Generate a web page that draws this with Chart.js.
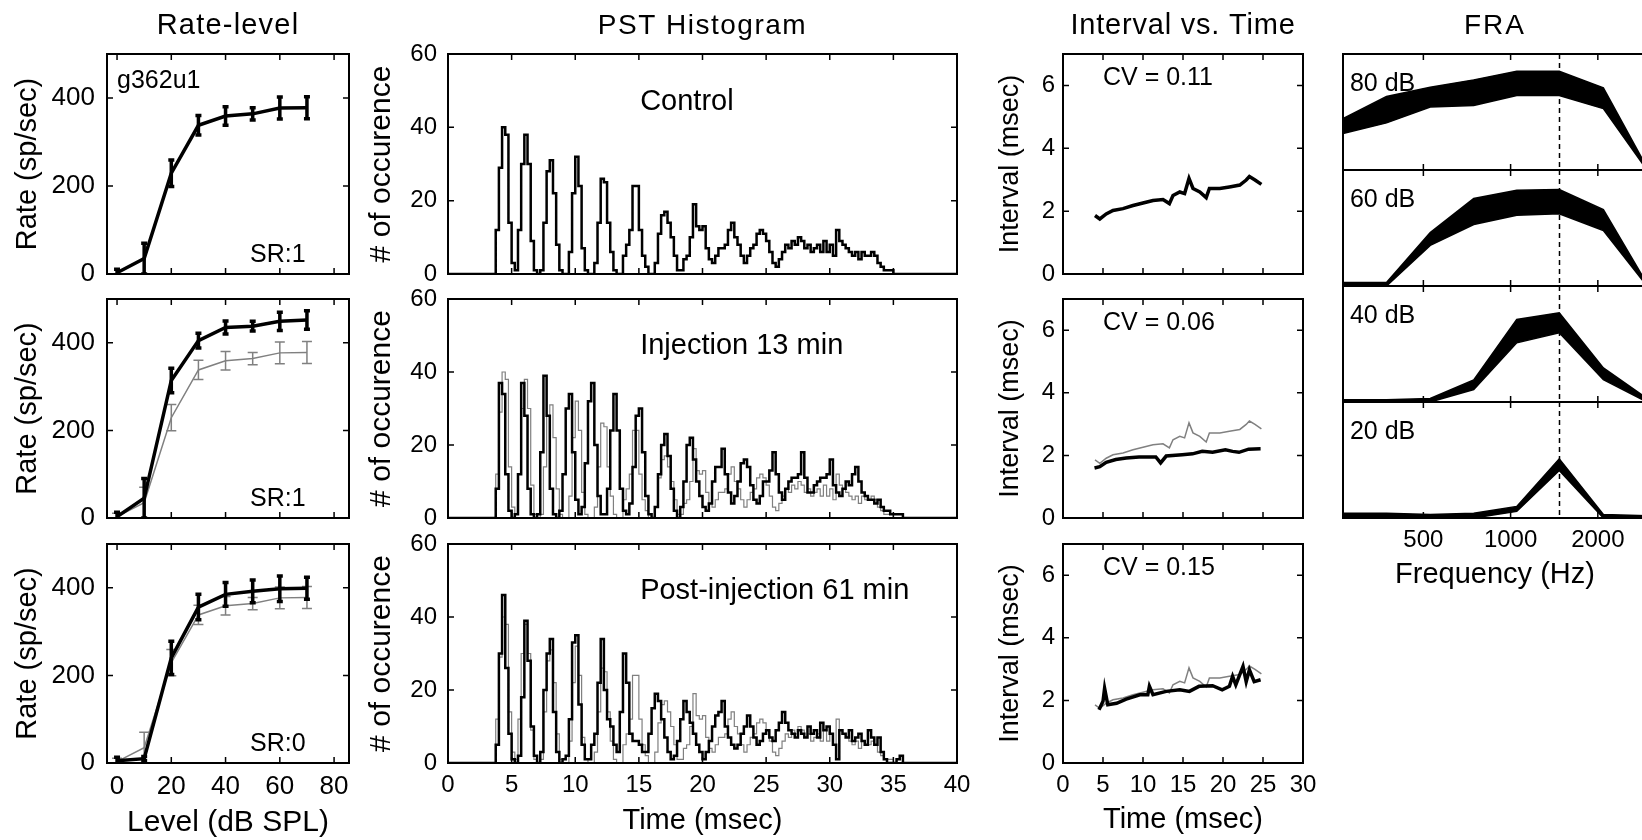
<!DOCTYPE html>
<html>
<head>
<meta charset="utf-8">
<script src="https://cdn.jsdelivr.net/npm/chart.js"></script>
<style>
html,body{margin:0;padding:0;background:#fff;width:1642px;height:840px;overflow:hidden;position:relative}
canvas{position:absolute}
</style>
</head>
<body>
<script>
// ================= DATA =================
// Rate-level (dB SPL -> spikes/sec)
const rateLevels = [0, 10, 20, 30, 40, 50, 60, 70];
const rateControl = [3, 35, 229, 338, 359, 364, 377, 378];
const rateControlErr = [8, 35, 30, 22, 21, 14, 25, 25];
const rateInjection = [3, 45, 314, 405, 435, 438, 449, 452];
const rateInjectionErr = [10, 45, 28, 17, 15, 11, 21, 21];
const ratePost = [5, 10, 240, 356, 385, 392, 398, 399];
const ratePostErr = [8, 5, 38, 29, 27, 26, 29, 25];

// PST histograms: counts per 0.25-ms bin starting at 3.5 ms
const PST_BIN_START = 3.5;
const PST_BIN_WIDTH = 0.25;
const pstControl = [
  0,12,29,40,38,14,3,1,12,30,
  38,30,9,1,0,1,14,28,31,22,
  8,1,0,0,6,22,32,24,7,1,
  0,0,3,14,26,25,14,6,1,0,
  0,5,8,12,24,24,12,5,2,0,
  0,3,11,16,17,14,10,5,1,1,
  4,5,10,19,13,12,13,7,4,3,
  5,7,7,8,12,14,10,8,5,3,
  5,7,8,11,12,11,9,6,3,2,
  4,6,8,7,9,8,10,9,7,8,
  6,7,8,6,9,6,8,5,12,9,
  8,7,6,5,6,4,6,5,5,6,
  5,3,2,1,1,1,0,0,0,0];
const pstInjection = [
  0,8,37,34,12,2,0,1,12,37,
  28,8,1,0,1,18,39,28,8,1,
  0,2,12,30,34,18,5,1,3,15,
  32,37,20,6,1,1,8,24,34,24,
  8,2,1,4,14,28,30,18,6,1,
  0,3,12,20,23,17,8,2,0,3,
  10,20,22,16,10,6,3,2,4,10,
  14,14,19,12,7,4,6,10,15,16,
  14,9,5,4,6,10,10,13,18,12,
  7,5,8,10,11,11,12,18,11,7,
  7,9,10,11,11,12,16,9,7,6,
  8,10,9,12,14,10,7,6,5,5,
  4,5,3,2,2,1,1,1,1,0];
const pstPost = [
  0,5,30,46,26,8,1,0,2,18,
  39,28,10,2,0,3,20,30,34,14,
  3,0,1,2,12,33,35,16,5,1,
  1,5,8,22,34,20,12,10,5,3,
  14,30,22,8,6,6,5,3,3,8,
  15,19,17,12,7,3,1,2,6,12,
  17,14,11,8,5,3,1,3,6,10,
  13,14,17,10,7,5,4,5,8,10,
  13,10,7,5,6,8,9,7,6,9,
  11,14,11,9,8,7,9,8,7,10,
  8,9,7,11,9,10,8,5,1,9,
  8,7,9,6,7,8,6,5,9,7,
  5,7,3,1,0,0,0,1,2,0];

// Interval vs. time (spike time ms -> interval ms)
const ivControlT = [4.0, 4.6, 5.4, 6.25, 7.5, 8.75, 10.0, 11.25, 12.5, 13.3, 13.75, 14.6, 15.2, 15.75, 16.25, 17.1, 17.9, 18.3, 19.6, 20.8, 22.1, 22.9, 23.3, 24.0, 24.8];
const ivControlV = [1.86, 1.75, 1.91, 2.02, 2.08, 2.18, 2.26, 2.34, 2.37, 2.24, 2.5, 2.61, 2.56, 3.04, 2.72, 2.61, 2.43, 2.72, 2.72, 2.77, 2.83, 2.99, 3.10, 2.99, 2.85];
const ivInjectionT = [3.94, 4.6, 5.4, 6.6, 7.9, 9.5, 11.6, 12.2, 12.9, 14.9, 16.2, 17.4, 18.7, 20.3, 21.2, 22.0, 23.2, 24.7];
const ivInjectionV = [1.6, 1.64, 1.78, 1.87, 1.92, 1.95, 1.95, 1.76, 1.98, 2.02, 2.05, 2.13, 2.1, 2.18, 2.13, 2.1, 2.2, 2.21];
const ivPostT = [4.5, 5.0, 5.2, 5.6, 6.7, 7.9, 9.6, 10.6, 10.8, 11.25, 12.9, 14.6, 15.8, 17.0, 18.7, 19.9, 20.8, 21.2, 21.6, 22.5, 22.9, 23.3, 23.9, 24.7];
const ivPostV = [1.70, 1.97, 2.39, 1.86, 1.91, 2.04, 2.18, 2.18, 2.45, 2.18, 2.29, 2.34, 2.29, 2.45, 2.47, 2.34, 2.45, 2.77, 2.5, 3.09, 2.6, 2.98, 2.6, 2.66];

// FRA bands (normalized response, lower / upper edge)
const fraFreq = [264, 373, 528, 746, 1050, 1472, 2090, 2956];
const fra80Upper = [0.443, 0.634, 0.714, 0.777, 0.851, 0.851, 0.709, 0.02];
const fra80Lower = [0.314, 0.406, 0.543, 0.557, 0.643, 0.643, 0.529, 0.0];
const fra60Upper = [0.03, 0.03, 0.46, 0.754, 0.826, 0.832, 0.658, 0.02];
const fra60Lower = [0.0, 0.0, 0.35, 0.53, 0.609, 0.623, 0.478, 0.0];
const fra40Upper = [0.02, 0.02, 0.03, 0.19, 0.712, 0.769, 0.294, 0.03];
const fra40Lower = [0.0, 0.0, 0.0, 0.107, 0.51, 0.597, 0.193, 0.0];
const fra20Upper = [0.04, 0.04, 0.03, 0.04, 0.10, 0.51, 0.03, 0.02];
const fra20Lower = [0.0, 0.0, 0.0, 0.0, 0.057, 0.41, 0.0, 0.0];
const fraCF = 1472;

// Tick values
const rateXTicks = [0, 20, 40, 60, 80];
const rateYTicks = [0, 200, 400];
const pstXTicks = [0, 5, 10, 15, 20, 25, 30, 35, 40];
const pstYTicks = [0, 20, 40, 60];
const ivXTicks = [0, 5, 10, 15, 20, 25, 30];
const ivYTicks = [0, 2, 4, 6];
const fraXTicks = [500, 1000, 2000];

// ================= HELPERS =================
const FONT = '"Liberation Sans", Arial, Helvetica, sans-serif';
const BLACK = '#000000';
const GRAY = '#808080';
const f = s => s + 'px ' + FONT;
Chart.defaults.font.family = FONT;
Chart.defaults.color = '#000';

const zip = (xs, ys) => xs.map((x, i) => ({x: x, y: ys[i]}));
const pstBinTimes = pstControl.map((_, i) => PST_BIN_START + i * PST_BIN_WIDTH);
function stairs(vals) {
  const pts = [{x: 0, y: 0}];
  vals.forEach((v, i) => pts.push({x: pstBinTimes[i], y: v}));
  pts.push({x: PST_BIN_START + vals.length * PST_BIN_WIDTH, y: 0});
  pts.push({x: 40, y: 0});
  return pts;
}

const framePlugin = {
  id: 'frame',
  afterDatasetsDraw(chart, args, o) {
    const ctx = chart.ctx, a = chart.chartArea;
    const xs = chart.scales.x, ys = chart.scales.y;
    ctx.save();
    ctx.strokeStyle = '#000';
    if (o.vline != null) {
      const vx = Math.round(xs.getPixelForValue(o.vline)) + 0.5;
      ctx.setLineDash([5, 4]);
      ctx.lineWidth = 1.5;
      ctx.beginPath(); ctx.moveTo(vx, a.top); ctx.lineTo(vx, a.bottom); ctx.stroke();
      ctx.setLineDash([]);
    }
    const tl = 6;
    ctx.lineWidth = 1.5;
    ctx.beginPath();
    (o.xTicks || []).forEach(v => {
      const px = xs.getPixelForValue(v);
      ctx.moveTo(px, a.bottom); ctx.lineTo(px, a.bottom - tl);
      ctx.moveTo(px, a.top); ctx.lineTo(px, a.top + tl);
    });
    (o.yTicks || []).forEach(v => {
      const py = ys.getPixelForValue(v);
      ctx.moveTo(a.left, py); ctx.lineTo(a.left + tl, py);
      ctx.moveTo(a.right, py); ctx.lineTo(a.right - tl, py);
    });
    ctx.stroke();
    ctx.lineWidth = 2;
    ctx.strokeRect(a.left, a.top, a.right - a.left, a.bottom - a.top);
    ctx.restore();
  }
};

const textPlugin = {
  id: 'texts',
  afterDraw(chart, args, o) {
    const ctx = chart.ctx, a = chart.chartArea;
    (o.items || []).forEach(it => {
      ctx.save();
      ctx.font = it.font;
      ctx.fillStyle = '#000';
      ctx.textAlign = it.align || 'left';
      ctx.textBaseline = 'alphabetic';
      if ('letterSpacing' in ctx) ctx.letterSpacing = it.spacing || '0px';
      let x, y;
      if (it.title) { x = (a.left + a.right) / 2; y = it.pageY - o.canvasTop; }
      else { x = chart.scales.x.getPixelForValue(it.x); y = chart.scales.y.getPixelForValue(it.y); }
      ctx.fillText(it.text, x, y);
      ctx.restore();
    });
  }
};

const errPlugin = {
  id: 'errbars',
  afterDatasetDraw(chart, args) {
    const ds = chart.data.datasets[args.index];
    if (!ds.errors) return;
    const ctx = chart.ctx, a = chart.chartArea;
    const xs = chart.scales.x, ys = chart.scales.y;
    ctx.save();
    ctx.beginPath(); ctx.rect(a.left, a.top, a.right - a.left, a.bottom - a.top); ctx.clip();
    ctx.strokeStyle = ds.borderColor;
    ctx.lineWidth = ds.errWidth;
    ctx.beginPath();
    ds.data.forEach((p, i) => {
      const e = ds.errors[i];
      const px = xs.getPixelForValue(p.x);
      const y1 = ys.getPixelForValue(p.y - e), y2 = ys.getPixelForValue(p.y + e);
      ctx.moveTo(px, y1); ctx.lineTo(px, y2);
      ctx.moveTo(px - ds.cap, y1); ctx.lineTo(px + ds.cap, y1);
      ctx.moveTo(px - ds.cap, y2); ctx.lineTo(px + ds.cap, y2);
    });
    ctx.stroke();
    ctx.restore();
  }
};

function axisCfg(o, isX, fixed) {
  const c = {
    type: o.type || 'linear', min: o.min, max: o.max, display: !!o.show,
    grid: {display: false, drawTicks: false},
    border: {display: false},
    afterBuildTicks: s => { s.ticks = o.ticks.map(v => ({value: v})); },
    ticks: {autoSkip: false, maxRotation: 0, minRotation: 0, padding: o.labelPad || 8, color: '#000',
            font: {family: FONT, size: o.tickSize || 24}, callback: v => String(v)},
    title: o.title ? {display: true, text: o.title, color: '#000', font: {family: FONT, size: o.titleSize}, padding: o.titlePad}
                   : {display: false}
  };
  if (o.show) c.afterFit = s => { if (isX) s.height = fixed; else s.width = fixed; };
  return c;
}

function panel(p) {
  const cv = document.createElement('canvas');
  const w = p.R - p.L + p.ml + p.mr, h = p.B - p.T + p.mt + p.mb;
  cv.width = w; cv.height = h;
  cv.style.left = (p.L - p.ml) + 'px';
  cv.style.top = (p.T - p.mt) + 'px';
  cv.style.width = w + 'px'; cv.style.height = h + 'px';
  document.body.appendChild(cv);
  const xShown = !!p.x.show, yShown = !!p.y.show;
  return new Chart(cv, {
    type: 'line',
    data: {datasets: p.datasets},
    options: {
      responsive: false, animation: false, devicePixelRatio: 1, events: [],
      layout: {padding: {left: yShown ? 0 : p.ml, top: p.mt, right: p.mr, bottom: xShown ? 0 : p.mb}},
      elements: {point: {radius: 0}, line: {tension: 0}},
      scales: {x: axisCfg(p.x, true, p.mb), y: axisCfg(p.y, false, p.ml)},
      plugins: {
        legend: {display: false}, tooltip: {enabled: false},
        frame: {xTicks: p.x.ticks, yTicks: p.y.ticks, vline: p.vline},
        texts: {items: p.texts || [], canvasTop: p.T - p.mt}
      }
    },
    plugins: [framePlugin, textPlugin, errPlugin]
  });
}

// ================= LAYOUT =================
const rows = [{T: 54, B: 274}, {T: 299, B: 518}, {T: 544, B: 763}];

// ---- Rate-level column ----
const rateSets = [
  [{data: zip(rateLevels, rateControl), errors: rateControlErr, borderColor: BLACK, borderWidth: 3.5, errWidth: 3.5, cap: 3}],
  [{data: zip(rateLevels, rateInjection), errors: rateInjectionErr, borderColor: BLACK, borderWidth: 3.5, errWidth: 3.5, cap: 3},
   {data: zip(rateLevels, rateControl), errors: rateControlErr, borderColor: GRAY, borderWidth: 1.5, errWidth: 1.5, cap: 5}],
  [{data: zip(rateLevels, ratePost), errors: ratePostErr, borderColor: BLACK, borderWidth: 3.5, errWidth: 3.5, cap: 3},
   {data: zip(rateLevels, rateControl), errors: rateControlErr, borderColor: GRAY, borderWidth: 1.5, errWidth: 1.5, cap: 5}]
];
const srLabels = ['SR:1', 'SR:1', 'SR:0'];
rows.forEach((r, i) => {
  const texts = [{text: srLabels[i], x: 69.5, y: 27, align: 'right', font: f(25)}];
  if (i === 0) {
    texts.push({text: 'g362u1', x: 0, y: 422, font: f(25)});
    texts.push({title: true, text: 'Rate-level', pageY: 34, align: 'center', font: f(29), spacing: '1.2px'});
  }
  panel({
    L: 107, R: 349, T: r.T, B: r.B, ml: 107, mr: 30, mt: i === 0 ? 54 : 30, mb: i === 2 ? 80 : 30,
    x: {min: -3.7, max: 85.5, ticks: rateXTicks, show: i === 2, labelPad: 8, tickSize: 26,
        title: 'Level (dB SPL)', titleSize: 30, titlePad: {bottom: 2.5}},
    y: {min: 0, max: 500, ticks: rateYTicks, show: true, labelPad: 12, tickSize: 26,
        title: 'Rate (sp/sec)', titleSize: 29, titlePad: {top: 10.6}},
    datasets: rateSets[i], texts: texts
  });
});

// ---- PST column ----
const pstSets = [
  [{data: stairs(pstControl), borderColor: BLACK, borderWidth: 2.5, stepped: true}],
  [{data: stairs(pstInjection), borderColor: BLACK, borderWidth: 2.5, stepped: true},
   {data: stairs(pstControl), borderColor: GRAY, borderWidth: 1.2, stepped: true}],
  [{data: stairs(pstPost), borderColor: BLACK, borderWidth: 2.5, stepped: true},
   {data: stairs(pstControl), borderColor: GRAY, borderWidth: 1.2, stepped: true}]
];
const pstLabels = ['Control', 'Injection 13 min', 'Post-injection 61 min'];
rows.forEach((r, i) => {
  const texts = [{text: pstLabels[i], x: 15.1, y: 44.8, font: f(29)}];
  if (i === 0) texts.push({title: true, text: 'PST Histogram', pageY: 34, align: 'center', font: f(28), spacing: '1.5px'});
  panel({
    L: 448, R: 957, T: r.T, B: r.B, ml: 100, mr: 30, mt: i === 0 ? 54 : 30, mb: i === 2 ? 80 : 30,
    x: {min: 0, max: 40, ticks: pstXTicks, show: i === 2, labelPad: 7.6,
        title: 'Time (msec)', titleSize: 29, titlePad: {bottom: 4.6}},
    y: {min: 0, max: 60, ticks: pstYTicks, show: true, labelPad: 11,
        title: '# of occurence', titleSize: 30, titlePad: {top: 15.5}},
    datasets: pstSets[i], texts: texts
  });
});

// ---- Interval vs. Time column ----
const ivSets = [
  [{data: zip(ivControlT, ivControlV), borderColor: BLACK, borderWidth: 3.5}],
  [{data: zip(ivInjectionT, ivInjectionV), borderColor: BLACK, borderWidth: 3.5},
   {data: zip(ivControlT, ivControlV), borderColor: GRAY, borderWidth: 1.5}],
  [{data: zip(ivPostT, ivPostV), borderColor: BLACK, borderWidth: 3.5},
   {data: zip(ivControlT, ivControlV), borderColor: GRAY, borderWidth: 1.5}]
];
const cvLabels = ['CV = 0.11', 'CV = 0.06', 'CV = 0.15'];
rows.forEach((r, i) => {
  const texts = [{text: cvLabels[i], x: 5.0, y: 6.0, font: f(25)}];
  if (i === 0) texts.push({title: true, text: 'Interval vs. Time', pageY: 34, align: 'center', font: f(29), spacing: '0.8px'});
  panel({
    L: 1063, R: 1303, T: r.T, B: r.B, ml: 100, mr: 30, mt: i === 0 ? 54 : 30, mb: i === 2 ? 80 : 30,
    x: {min: 0, max: 30, ticks: ivXTicks, show: i === 2, labelPad: 7.6,
        title: 'Time (msec)', titleSize: 29, titlePad: {bottom: 5.6}},
    y: {min: 0, max: 7, ticks: ivYTicks, show: true, labelPad: 8,
        title: 'Interval (msec)', titleSize: 27, titlePad: {top: 31.6}},
    datasets: ivSets[i], texts: texts
  });
});

// ---- FRA column ----
const fraRows = [
  {T: 54, B: 170, label: '80 dB', up: fra80Upper, lo: fra80Lower},
  {T: 170, B: 286, label: '60 dB', up: fra60Upper, lo: fra60Lower},
  {T: 286, B: 402, label: '40 dB', up: fra40Upper, lo: fra40Lower},
  {T: 402, B: 518, label: '20 dB', up: fra20Upper, lo: fra20Lower}
];
fraRows.forEach((r, i) => {
  const last = i === fraRows.length - 1;
  const texts = [{text: r.label, x: 279, y: 0.68, font: f(25)}];
  if (i === 0) texts.push({title: true, text: 'FRA', pageY: 34, align: 'center', font: f(28), spacing: '2px'});
  panel({
    L: 1343, R: 1647, T: r.T, B: r.B, ml: 10, mr: 10, mt: i === 0 ? 54 : 10, mb: last ? 80 : 10,
    x: {type: 'logarithmic', min: 264, max: 2956, ticks: fraXTicks, show: last, labelPad: 7.6,
        title: 'Frequency (Hz)', titleSize: 29, titlePad: {bottom: 5.6}},
    y: {min: 0, max: 1, ticks: [], show: false},
    vline: fraCF,
    datasets: [
      {data: zip(fraFreq, r.up), borderColor: BLACK, backgroundColor: BLACK, borderWidth: 1.5, fill: '+1'},
      {data: zip(fraFreq, r.lo), borderColor: BLACK, borderWidth: 1.5, fill: false}
    ],
    texts: texts
  });
});
</script>
</body>
</html>
